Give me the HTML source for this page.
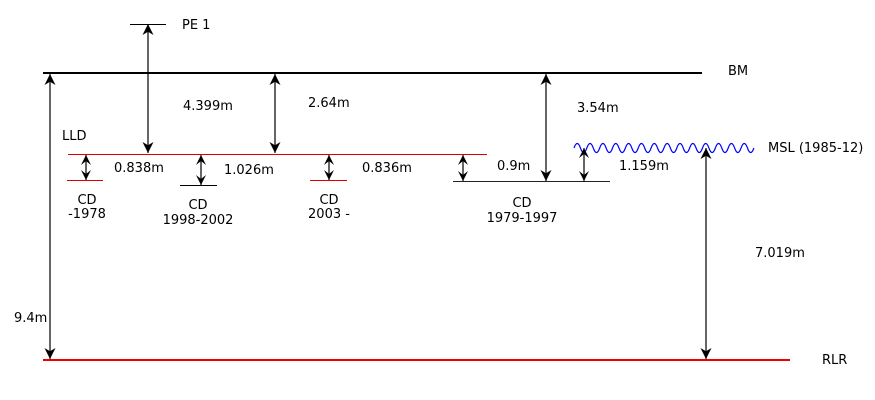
<!DOCTYPE html>
<html><head><meta charset="utf-8"><style>
body{margin:0;background:#fff}
svg{display:block;font-family:"DejaVu Sans","Liberation Sans",sans-serif;font-size:13px}
</style></head><body>
<svg width="875" height="400" viewBox="0 0 875 400">
<defs>
<marker id="ah" viewBox="0 0 10 10" refX="10" refY="5" markerWidth="11" markerHeight="11" markerUnits="userSpaceOnUse" orient="auto-start-reverse">
<path d="M0,0 L10,5 L0,10 L3,5 Z" fill="#000"/>
</marker>
<marker id="sm" viewBox="0 0 10 10" refX="10" refY="5" markerWidth="12" markerHeight="10" markerUnits="userSpaceOnUse" orient="auto-start-reverse">
<path d="M0,0 L10,5 L0,10 L4,5 Z" fill="#000"/>
</marker>
</defs>
<g shape-rendering="crispEdges">
<line x1="43" y1="73" x2="702" y2="73" stroke="#000" stroke-width="2"/>
<line x1="130" y1="24.5" x2="166" y2="24.5" stroke="#000"/>
<line x1="68" y1="154.5" x2="487" y2="154.5" stroke="#d00"/>
<line x1="43" y1="360" x2="790" y2="360" stroke="#e00" stroke-width="2"/>
<line x1="67" y1="180.5" x2="103" y2="180.5" stroke="#d00"/>
<line x1="180" y1="185.5" x2="217" y2="185.5" stroke="#000"/>
<line x1="310" y1="180.5" x2="347" y2="180.5" stroke="#d00"/>
<line x1="453" y1="181.5" x2="610" y2="181.5" stroke="#222"/>
</g>
<path id="wave" fill="none" stroke="#00f" stroke-width="1.2"/>
<g stroke="#000" stroke-width="1.2">
<line x1="148" y1="24" x2="148" y2="153" marker-start="url(#ah)" marker-end="url(#ah)"/>
<line x1="275" y1="74" x2="275" y2="153" marker-start="url(#ah)" marker-end="url(#ah)"/>
<line x1="546" y1="74" x2="546" y2="181" marker-start="url(#ah)" marker-end="url(#ah)"/>
<line x1="50" y1="74" x2="50" y2="359" marker-start="url(#ah)" marker-end="url(#ah)"/>
<line x1="706" y1="148" x2="706" y2="359" marker-start="url(#ah)" marker-end="url(#ah)"/>
<line x1="86" y1="155" x2="86" y2="180" marker-start="url(#sm)" marker-end="url(#sm)"/>
<line x1="201" y1="155" x2="201" y2="185" marker-start="url(#sm)" marker-end="url(#sm)"/>
<line x1="329" y1="155" x2="329" y2="180" marker-start="url(#sm)" marker-end="url(#sm)"/>
<line x1="463" y1="155" x2="463" y2="181" marker-start="url(#sm)" marker-end="url(#sm)"/>
<line x1="584" y1="148" x2="584" y2="181" marker-start="url(#sm)" marker-end="url(#sm)"/>
</g>
<g fill="#000">
<text x="182" y="29">PE 1</text>
<text x="728" y="75">BM</text>
<text x="62" y="140">LLD</text>
<text x="822" y="364">RLR</text>
<text x="768" y="152">MSL (1985-12)</text>
<text x="183" y="110">4.399m</text>
<text x="308" y="107">2.64m</text>
<text x="577" y="112">3.54m</text>
<text x="14" y="322">9.4m</text>
<text x="755" y="257">7.019m</text>
<text x="114" y="172">0.838m</text>
<text x="224" y="174">1.026m</text>
<text x="362" y="172">0.836m</text>
<text x="497" y="170">0.9m</text>
<text x="619" y="170">1.159m</text>
<g text-anchor="middle">
<text x="87" y="204">CD</text>
<text x="87" y="218">-1978</text>
<text x="198" y="209">CD</text>
<text x="198" y="224">1998-2002</text>
<text x="329" y="204">CD</text>
<text x="329" y="218">2003 -</text>
<text x="522" y="207">CD</text>
<text x="522" y="222">1979-1997</text>
</g>
</g>
</svg>
<script>
var d="M574,148";
var x0=574,p=12.85,a=4.5;
for(var i=0;i<14;i++){var x=x0+i*p;d+=" Q"+(x+p/4)+","+(148-a*2)+" "+(x+p/2)+",148 Q"+(x+3*p/4)+","+(148+a*2)+" "+(x+p)+",148";}
document.getElementById('wave').setAttribute('d',d);
</script>
</body></html>
